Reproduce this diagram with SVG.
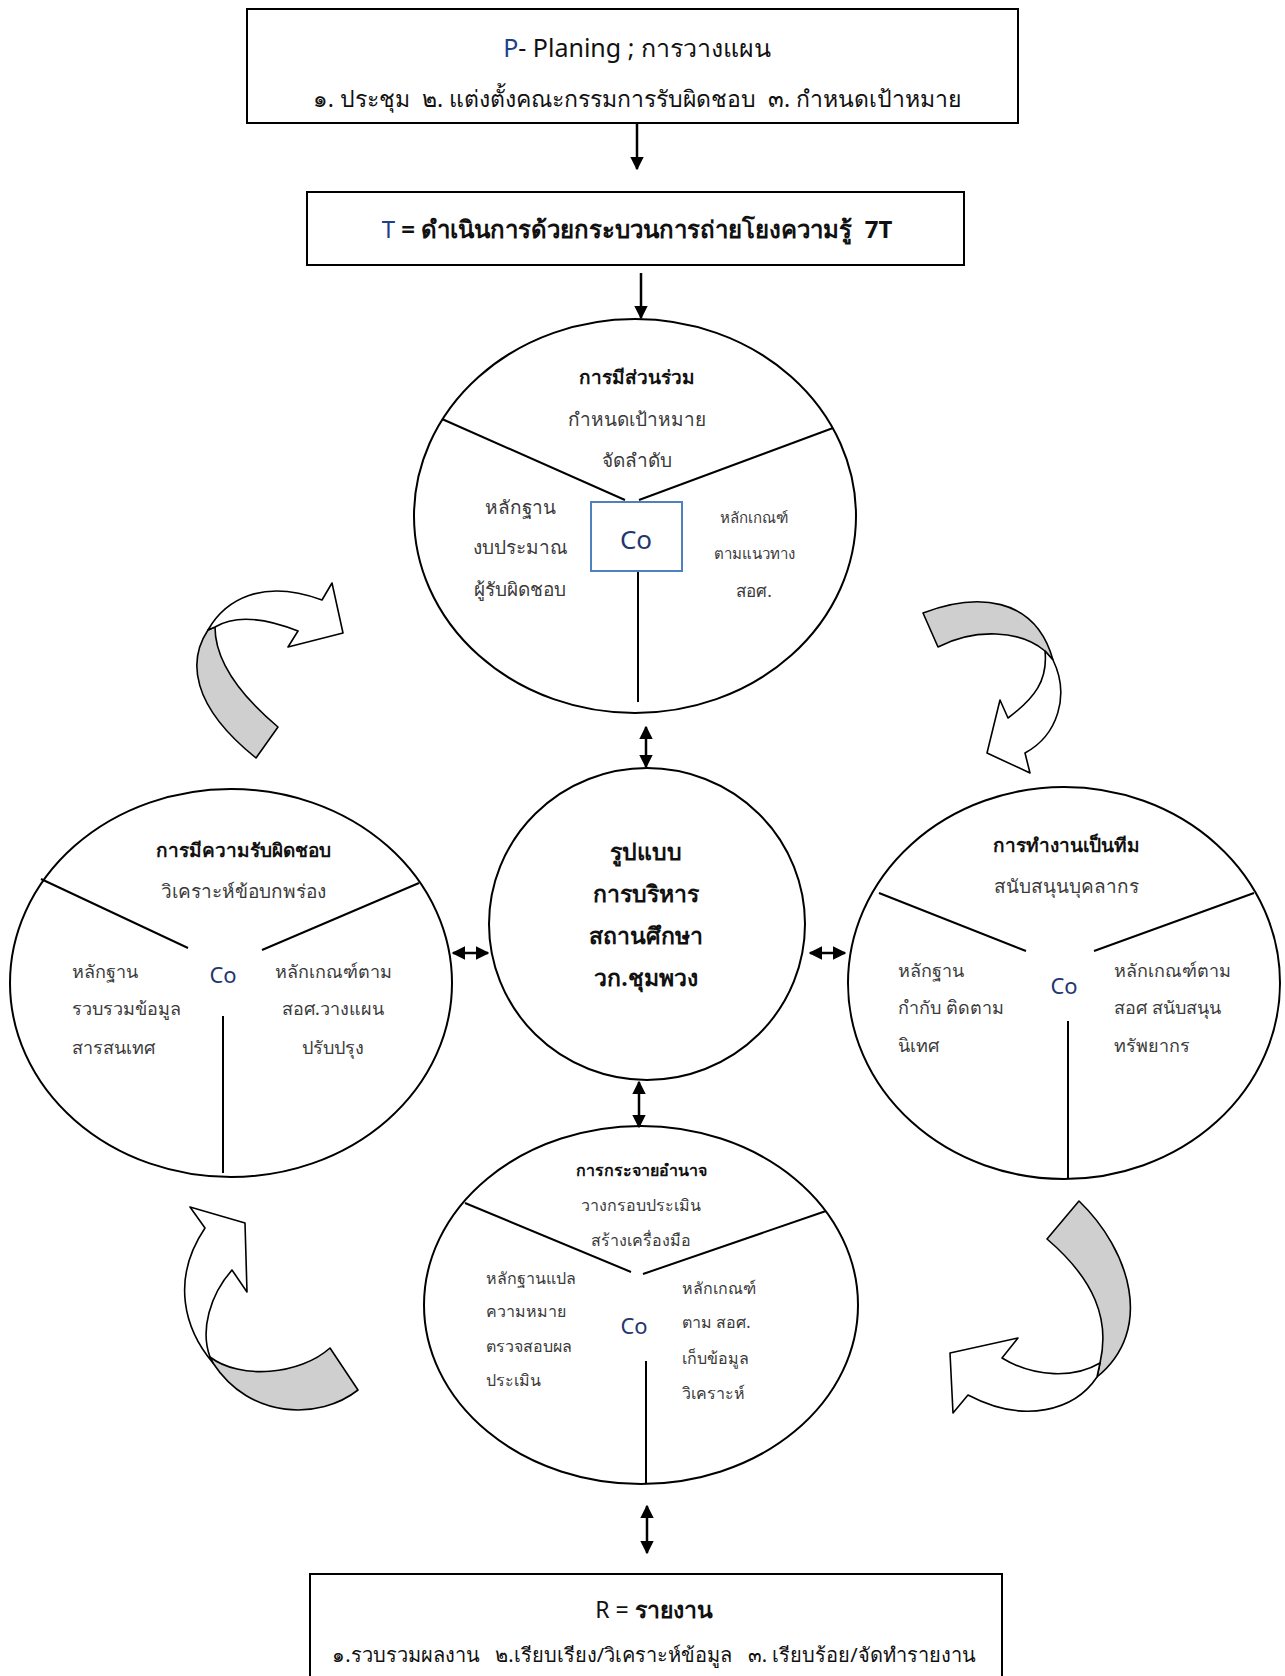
<svg xmlns="http://www.w3.org/2000/svg" width="1285" height="1676" viewBox="0 0 1285 1676">
<style>
text{font-family:"Noto Sans","DejaVu Sans",sans-serif;fill:#3a3a3a;white-space:pre}
.c{text-anchor:middle}
.b{font-weight:bold;fill:#111}
.box{fill:#fff;stroke:#000;stroke-width:2}
.el{fill:#fff;stroke:#000;stroke-width:2}
.ln{stroke:#000;stroke-width:2;fill:none}
.co{fill:#1f3870}
.nv{fill:#1f3f8a}
.h{fill:#111}
.gray{fill:#cfcfcf;stroke:#000;stroke-width:1.6;stroke-linejoin:round}
.wh{fill:#fff;stroke:#000;stroke-width:1.6;stroke-linejoin:round}
.ar{stroke:#000;stroke-width:2.5;fill:none}
</style>
<defs>
<marker id="ah" viewBox="0 0 10 10" refX="9" refY="5" markerWidth="5.5" markerHeight="5.5" orient="auto-start-reverse"><path d="M0,0 L10,5 L0,10 Z" fill="#000"/></marker>
</defs>
<rect width="1285" height="1676" fill="#fff"/>

<g id="node-p">
<rect class="box" x="247" y="9" width="771" height="114"/>
<text class="c h" x="637" y="57" font-size="25"><tspan class="nv">P</tspan>- Planing ; การวางแผน</text>
<text class="c h" x="637" y="107" font-size="23" xml:space="preserve">๑. ประชุม  ๒. แต่งตั้งคณะกรรมการรับผิดชอบ  ๓. กำหนดเป้าหมาย</text>
</g>

<g id="node-t">
<rect class="box" x="307" y="192" width="657" height="73"/>
<text class="c b" x="637" y="238" font-size="24" xml:space="preserve"><tspan class="nv" font-weight="normal">T</tspan> = ดำเนินการด้วยกระบวนการถ่ายโยงความรู้  7T</text>
</g>

<g id="node-participation">
<ellipse class="el" cx="635" cy="516" rx="221" ry="197"/>
<path class="ln" d="M442,419 L625,500 M833,428 L639,500 M638,571 L638,702"/>
<rect x="591" y="502" width="91" height="69" fill="#fff" stroke="#4f81bd" stroke-width="2"/>
<text class="c co" x="636" y="549" font-size="26">Co</text>
<text class="c b" x="637" y="384" font-size="19">การมีส่วนร่วม</text>
<text class="c" x="637" y="426" font-size="19">กำหนดเป้าหมาย</text>
<text class="c" x="637" y="467" font-size="19">จัดลำดับ</text>
<text class="c" x="520" y="514" font-size="19">หลักฐาน</text>
<text class="c" x="520" y="554" font-size="19">งบประมาณ</text>
<text class="c" x="520" y="596" font-size="19">ผู้รับผิดชอบ</text>
<text class="c" x="754" y="523" font-size="15">หลักเกณฑ์</text>
<text class="c" x="754" y="559" font-size="15">ตามแนวทาง</text>
<text class="c" x="754" y="597" font-size="17">สอศ.</text>
</g>

<g id="node-center">
<ellipse class="el" cx="647" cy="924" rx="158" ry="156"/>
<text class="c b" x="646" y="860" font-size="23">รูปแบบ</text>
<text class="c b" x="646" y="902" font-size="23">การบริหาร</text>
<text class="c b" x="646" y="944" font-size="23">สถานศึกษา</text>
<text class="c b" x="646" y="986" font-size="23">วก.ชุมพวง</text>
</g>

<g id="node-responsibility">
<ellipse class="el" cx="231" cy="983" rx="221" ry="194"/>
<path class="ln" d="M41,879 L188,948 M419,883 L262,950 M223,1016 L223,1173"/>
<text class="c co" x="223" y="983" font-size="22">Co</text>
<text class="c b" x="243" y="857" font-size="19">การมีความรับผิดชอบ</text>
<text class="c" x="243" y="898" font-size="19">วิเคราะห์ข้อบกพร่อง</text>
<text x="72" y="978" font-size="18">หลักฐาน</text>
<text x="72" y="1015" font-size="18">รวบรวมข้อมูล</text>
<text x="72" y="1054" font-size="18">สารสนเทศ</text>
<text class="c" x="333" y="978" font-size="18">หลักเกณฑ์ตาม</text>
<text class="c" x="333" y="1015" font-size="18">สอศ.วางแผน</text>
<text class="c" x="333" y="1054" font-size="18">ปรับปรุง</text>
</g>

<g id="node-teamwork">
<ellipse class="el" cx="1064" cy="983" rx="216" ry="196"/>
<path class="ln" d="M879,893 L1026,951 M1254,893 L1094,951 M1068,1021 L1068,1179"/>
<text class="c co" x="1064" y="994" font-size="22">Co</text>
<text class="c b" x="1066" y="852" font-size="19">การทำงานเป็นทีม</text>
<text class="c" x="1066" y="893" font-size="19">สนับสนุนบุคลากร</text>
<text x="898" y="977" font-size="18">หลักฐาน</text>
<text x="898" y="1014" font-size="18">กำกับ ติดตาม</text>
<text x="898" y="1052" font-size="18">นิเทศ</text>
<text x="1114" y="977" font-size="18">หลักเกณฑ์ตาม</text>
<text x="1114" y="1014" font-size="18">สอศ สนับสนุน</text>
<text x="1114" y="1052" font-size="18">ทรัพยากร</text>
</g>

<g id="node-decentralization">
<ellipse class="el" cx="641" cy="1305" rx="217" ry="179"/>
<path class="ln" d="M465,1203 L631,1272 M826,1211 L643,1274 M646,1361 L646,1484"/>
<text class="c co" x="634" y="1334" font-size="22">Co</text>
<text class="c b" x="641" y="1176" font-size="16">การกระจายอำนาจ</text>
<text class="c" x="641" y="1211" font-size="16">วางกรอบประเมิน</text>
<text class="c" x="641" y="1246" font-size="16">สร้างเครื่องมือ</text>
<text x="486" y="1284" font-size="16">หลักฐานแปล</text>
<text x="486" y="1317" font-size="16">ความหมาย</text>
<text x="486" y="1352" font-size="16">ตรวจสอบผล</text>
<text x="486" y="1386" font-size="16">ประเมิน</text>
<text x="682" y="1294" font-size="16">หลักเกณฑ์</text>
<text x="682" y="1328" font-size="16">ตาม สอศ.</text>
<text x="682" y="1364" font-size="16">เก็บข้อมูล</text>
<text x="682" y="1399" font-size="16">วิเคราะห์</text>
</g>

<g id="node-r">
<rect class="box" x="310" y="1574" width="692" height="110"/>
<text class="c h" x="654" y="1618" font-size="23">R = <tspan font-weight="bold">รายงาน</tspan></text>
<text class="c h" x="654" y="1662" font-size="20" xml:space="preserve">๑.รวบรวมผลงาน   ๒.เรียบเรียง/วิเคราะห์ข้อมูล   ๓. เรียบร้อย/จัดทำรายงาน</text>
</g>

<g id="connectors">
<line class="ar" x1="637" y1="123" x2="637" y2="169" marker-end="url(#ah)"/>
<line class="ar" x1="641" y1="273" x2="641" y2="318" marker-end="url(#ah)"/>
<line class="ar" x1="646" y1="727" x2="646" y2="767" marker-start="url(#ah)" marker-end="url(#ah)"/>
<line class="ar" x1="639" y1="1082" x2="639" y2="1127" marker-start="url(#ah)" marker-end="url(#ah)"/>
<line class="ar" x1="647" y1="1506" x2="647" y2="1553" marker-start="url(#ah)" marker-end="url(#ah)"/>
<line class="ar" x1="453" y1="953" x2="488" y2="953" marker-start="url(#ah)" marker-end="url(#ah)"/>
<line class="ar" x1="810" y1="953" x2="845" y2="953" marker-start="url(#ah)" marker-end="url(#ah)"/>
</g>

<g id="cycle-arrows">
<path class="gray" d="M256,758 L278,727 C240,695 215,660 215,627 L208,630 C188,660 190,705 256,758 Z"/>
<path class="wh" d="M208,630 C225,600 262,578 322,600 L332,583 L343,633 L288,647 L298,631 C265,618 235,615 215,627 Z"/>
<path class="gray" d="M923,613 C975,593 1035,595 1053,660 L1045,651 C1020,630 975,628 938,647 Z"/>
<path class="wh" d="M1053,660 C1070,695 1058,735 1025,753 L1030,773 L987,753 L1000,700 L1008,718 C1035,698 1048,680 1045,651 Z"/>
<path class="gray" d="M210,1357 C240,1380 300,1375 330,1348 L358,1390 C320,1420 250,1420 213,1363 Z"/>
<path class="wh" d="M213,1363 C185,1330 170,1280 205,1228 L190,1207 L245,1223 L247,1292 L232,1270 C210,1295 200,1330 210,1357 Z"/>
<path class="gray" d="M1047,1239 L1079,1201 C1130,1250 1155,1330 1097,1377 L1100,1363 C1110,1320 1095,1280 1047,1239 Z"/>
<path class="wh" d="M1097,1377 C1075,1410 1025,1425 968,1395 L953,1413 L950,1353 L1018,1338 L1002,1358 C1035,1378 1075,1378 1100,1363 Z"/>
</g>
</svg>
